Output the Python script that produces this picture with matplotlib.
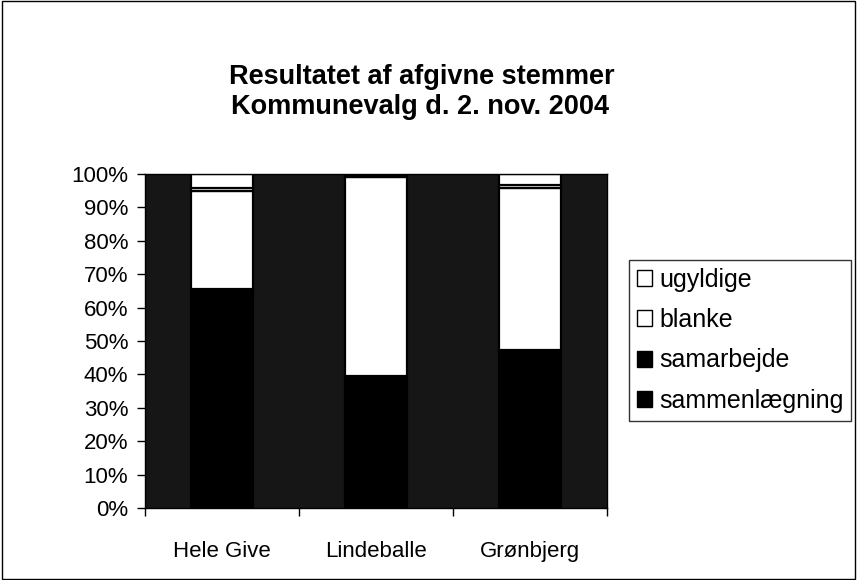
import matplotlib
matplotlib.use("Agg")
import matplotlib.pyplot as plt
from matplotlib.patches import Patch, Rectangle
import numpy as np

plt.rcParams['font.family'] = ['Liberation Sans', 'DejaVu Sans']

categories = ["Hele Give", "Lindeballe", "Grønbjerg"]
series_names = ["sammenlægning", "samarbejde", "blanke", "ugyldige"]
sammenlaegning = [65.7, 39.5, 47.3]
samarbejde = [29.2, 59.6, 48.5]
blanke = [0.9, 0.5, 0.9]
ugyldige = [4.2, 0.4, 3.3]
values = [sammenlaegning, samarbejde, blanke, ugyldige]
bar_colors = ["#000000", "#ffffff", "#ffffff", "#ffffff"]
legend_colors = {"ugyldige": "#ffffff", "blanke": "#ffffff",
                 "samarbejde": "#000000", "sammenlægning": "#000000"}
yticks = np.arange(0, 101, 10)
ytick_labels = [f"{v}%" for v in yticks]

W, H = 857, 580
fig = plt.figure(figsize=(W / 100, H / 100), dpi=100)
fig.patch.set_facecolor("white")
fig.add_artist(Rectangle((0.002, 0.002), 0.996, 0.996, transform=fig.transFigure,
                         fill=False, edgecolor="black", linewidth=1.0))

ax = fig.add_axes([145 / W, 1 - 508 / H, (607 - 145) / W, (508 - 174) / H])
ax.set_facecolor("#161616")

x = np.arange(len(categories))
bottom = np.zeros(len(categories))
for name, vals, col in zip(series_names, values, bar_colors):
    v = np.array(vals)
    ax.bar(x, v, bottom=bottom, width=0.4, color=col, edgecolor="black",
           linewidth=1.6, label=name)
    bottom += v

ax.set_xlim(-0.5, 2.5)
ax.set_ylim(0, 100)
ax.set_yticks(yticks)
ax.set_yticklabels(ytick_labels, fontsize=16)
ax.set_xticks([-0.5, 0.5, 1.5, 2.5])
ax.set_xticklabels([])
ax.set_xticks(x, minor=True)
ax.set_xticklabels(categories, minor=True, fontsize=16)
ax.tick_params(axis="x", which="minor", length=0, pad=24)
ax.tick_params(axis="x", which="major", length=6, direction="out", width=1)
ax.tick_params(axis="y", length=6, direction="out", width=1, pad=6)
for s in ax.spines.values():
    s.set_color("black")
    s.set_linewidth(1.0)

fig.text(422 / W, 1 - 77 / H, "Resultatet af afgivne stemmer", ha="center",
         va="center", fontsize=19.5, fontweight="bold")
fig.text(420 / W, 1 - 107 / H, "Kommunevalg d. 2. nov. 2004", ha="center",
         va="center", fontsize=19.5, fontweight="bold")

handles = [Patch(facecolor=legend_colors[n], edgecolor="black", label=n)
           for n in ["ugyldige", "blanke", "samarbejde", "sammenlægning"]]
leg = fig.legend(handles=handles, loc="upper left",
                 bbox_to_anchor=(629 / W, 1 - 260 / H), fontsize=18,
                 frameon=True, fancybox=False, edgecolor="black",
                 handlelength=0.6, handleheight=0.6, handletextpad=0.3,
                 labelspacing=0.66, borderpad=0.3, borderaxespad=0)
leg.get_frame().set_linewidth(1.0)

fig.savefig("out.png", dpi=100)
